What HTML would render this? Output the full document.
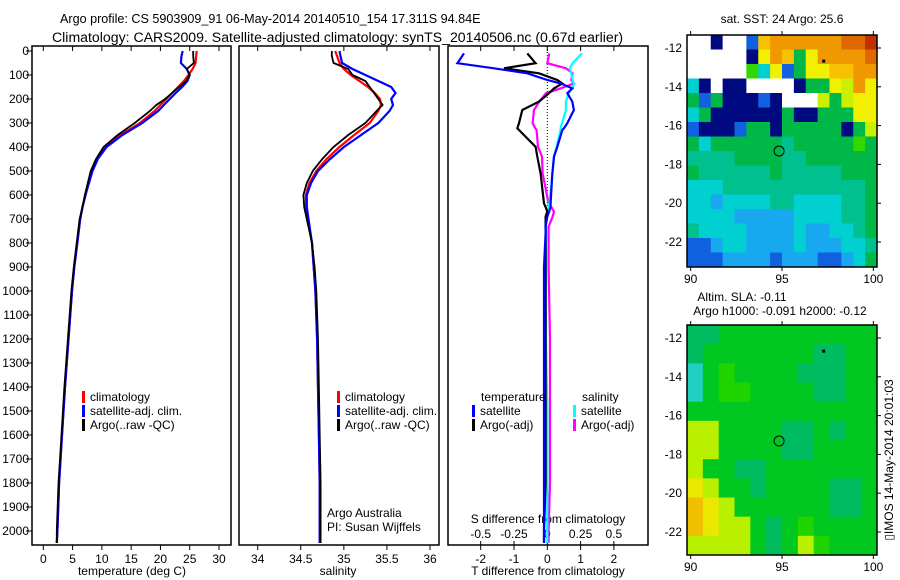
<!DOCTYPE html>
<html><head><meta charset="utf-8">
<style>
html,body{margin:0;padding:0;background:#fff;}
svg{display:block;font-family:"Liberation Sans",sans-serif;}
text{fill:#000;}
</style></head>
<body>
<svg id="chart" width="900" height="580" viewBox="0 0 900 580" xmlns="http://www.w3.org/2000/svg">
<text x="60" y="23" font-size="12.6" text-anchor="start">Argo profile: CS 5903909_91 06-May-2014 20140510_154 17.311S 94.84E</text>
<text x="52" y="42" font-size="14.1" text-anchor="start">Climatology: CARS2009. Satellite-adjusted climatology: synTS_20140506.nc (0.67d earlier)</text>
<text x="782" y="23" font-size="12" text-anchor="middle">sat. SST: 24 Argo: 25.6</text>
<text x="742" y="301" font-size="12" text-anchor="middle">Altim. SLA: -0.11</text>
<text x="780" y="315" font-size="12" text-anchor="middle">Argo h1000: -0.091 h2000: -0.12</text>
<text transform="translate(893,460) rotate(-90)" font-size="12" text-anchor="middle">▯IMOS 14-May-2014 20:01:03</text>
<g id="g"></g>
</svg>
<script>
// ---------- data ----------
const depths = [0,20,50,75,100,125,150,175,200,225,250,300,350,400,450,500,550,600,650,700,800,900,1000,1200,1400,1600,1800,2000,2050];
const tClim = [26.2,26.1,26.0,25.5,24.8,24.0,23.0,22.0,21.0,20.0,19.0,16.5,13.2,10.6,9.2,8.3,7.7,7.2,6.7,6.3,5.8,5.3,4.9,4.3,3.7,3.2,2.7,2.4,2.3];
const tSat  = [23.8,23.6,23.5,24.5,25.0,24.6,23.7,22.6,21.6,20.6,19.6,16.9,13.5,10.8,9.3,8.4,7.8,7.2,6.7,6.3,5.8,5.3,4.9,4.3,3.7,3.2,2.7,2.4,2.3];
const tArgo = [25.6,25.6,25.7,24.5,25.0,24.4,23.2,22.0,20.8,19.3,18.2,15.6,12.7,10.3,9.0,8.1,7.6,7.1,6.7,6.2,5.7,5.2,4.8,4.2,3.6,3.1,2.6,2.3,2.3];
const sClim = [34.90,34.92,34.95,35.00,35.08,35.18,35.28,35.36,35.42,35.43,35.40,35.30,35.12,34.95,34.80,34.68,34.60,34.56,34.56,34.58,34.63,34.65,34.67,34.69,34.70,34.71,34.72,34.72,34.72];
const sSat  = [34.95,34.96,34.98,35.10,35.25,35.40,35.55,35.60,35.55,35.57,35.53,35.40,35.20,35.00,34.84,34.70,34.62,34.57,34.57,34.59,34.63,34.65,34.67,34.69,34.70,34.71,34.72,34.72,34.72];
const sArgo = [34.86,34.86,34.88,35.05,35.10,35.25,35.30,35.35,35.40,35.45,35.38,35.25,35.05,34.88,34.75,34.64,34.57,34.53,34.54,34.57,34.63,34.66,34.68,34.70,34.71,34.72,34.73,34.73,34.73];
const dDepth = [10,51,72,93,121,135,156,176,211,246,301,322,329,399,440,510,635,650,670,690,732,760,900,1200,1500,1800,2000,2050];
const dTSat  = [-2.5,-2.7,-1.6,-0.6,0.0,0.4,0.75,0.6,0.75,0.8,0.6,0.5,0.45,0.3,0.2,0.15,0.1,0.1,0.05,0,-0.05,-0.05,-0.1,-0.1,-0.1,-0.1,-0.1,-0.1];
const dTArgo = [-0.6,-0.35,-1.3,-0.25,0.3,0.45,0.2,0.05,-0.25,-0.75,-0.85,-0.9,-0.85,-0.35,-0.3,-0.2,-0.1,-0.05,0,-0.05,-0.05,-0.05,-0.05,-0.05,-0.05,-0.05,-0.1,-0.1];
const dSSat  = [0.26,0.19,0.17,0.18,0.19,0.20,0.19,0.16,0.14,0.14,0.11,0.10,0.10,0.07,0.05,0.04,0.015,0.01,0.0,-0.01,-0.015,-0.01,-0.01,-0.01,0,0,0,0];
const dSArgo = [0.015,0,0.14,0.19,0.18,0.2,0.1,-0.01,-0.06,-0.1,-0.11,-0.09,-0.08,-0.07,-0.04,-0.035,0.01,0.03,0.05,0.04,0.01,0.01,0.01,0.02,0.02,0.02,0.01,0.01];
const depthTicks = [0,100,200,300,400,500,600,700,800,900,1000,1100,1200,1300,1400,1500,1600,1700,1800,1900,2000];
const tTicks = [0,5,10,15,20,25,30];
const sTicks = [34,34.5,35,35.5,36];
const sTickLabels = ["34","34.5","35","35.5","36"];
const dTTicks = [-2,-1,0,1,2];
const dSTicks = [-0.5,-0.25,0,0.25,0.5];
const dSTickLabels = ["-0.5","-0.25","0","0.25","0.5"];
const latTicks = [-12,-14,-16,-18,-20,-22];
const lonTicks = [90,95,100];
const sstRows = [
"WWNWWBoOOOOOORRD","WWWWWNyOoGyOOOOR","WWWWWHCyBGyyooOO","CNWNNWWWWNGGyYOy",
"GBGNNNBNWWWYGYyy","CGNNNNNNGNNGGGyy","BNNNBGGNGGGGGNGY","GCGGGGGGTGGGGGHG",
"TTTTGGGGTTGGGGGG","GTTTTTTGTTTTTGGG","CCCTTTTTTTTTTTTG","CCLCCCCTTCCCCTTG",
"CCCCLLLLLCCCCTTG","TCCCCLLLLCLLCCTG","BBLCCLLLLCLLLCCT","BBBLLLLBLLLBBLCG"];
const slaRows = [
"TTGGGGGGGGGG","TGGGGGGGTTGG","AGHGGGGTTTGG","AGHHGGGGTTGG","GGGGGGGGGGGG","YYGGGGTTGTGG",
"YYGGGGTTGGGG","YGGTTGGGGGGG","yYGGTGGGGTTG","OyYGGGGGGTTG","OyYYGTGHGGGG","YYYYGTGYHGGG"];
const floatLon = 94.84, floatLat = -17.311;

// ---------- helpers ----------
const NS="http://www.w3.org/2000/svg";
const G=document.getElementById('g');
function mk(tag,attrs,parent){const e=document.createElementNS(NS,tag);for(const k in attrs)e.setAttribute(k,attrs[k]);(parent||G).appendChild(e);return e;}
const Y0=51, PXM=0.24;
const yD = d => Y0 + d*PXM;
const xT = t => 43.3 + t*(219-43.3)/30;
const xS = s => 257.7 + (s-34)*(430-257.7)/2;
const xDT = v => 547.3 + v*33.3;
const xDS = v => 547.3 + v*133.2;
const TOP=46, BOT=545;

function frame(x1,x2,name){const r=mk('rect',{x:x1,y:TOP,width:x2-x1,height:BOT-TOP,fill:'none',stroke:'#000','stroke-width':1.5});

}
function txt(x,y,s,size,anchor,name){const t=mk('text',{x:x,y:y,'font-size':size,'text-anchor':anchor||'start'});t.textContent=s;

return t;}
function line(xs,ys,color,name,w){let p='';for(let i=0;i<xs.length;i++)p+=(i?' ':'')+xs[i].toFixed(1)+','+ys[i].toFixed(1);
const l=mk('polyline',{points:p,fill:'none',stroke:color,'stroke-width':w||2.2,'stroke-linejoin':'miter'});

}
function tick(x1,y1,x2,y2,name){const l=mk('line',{x1:x1,y1:y1,x2:x2,y2:y2,stroke:'#000','stroke-width':1});

}
function legend(x,y,color,label,name){const r=mk('rect',{x:x,y:y-10,width:3,height:12,fill:color});


txt(x+8,y,label,12,'start',name);}

// ---------- panel 1: temperature ----------
frame(32,231,'temperature-panel-frame');
depthTicks.forEach(d=>{tick(26,yD(d),32,yD(d),'depth-tick');txt(29,yD(d)+4,String(d),12,'end','depth-tick-label');});
tTicks.forEach(t=>{tick(xT(t),BOT,xT(t),BOT+5,'temperature-tick');tick(xT(t),TOP,xT(t),TOP+5,'temperature-top-tick');txt(xT(t),BOT+18,String(t),12,'middle','temperature-tick-label');});
txt(132,575,'temperature (deg C)',12,'middle','temperature-axis-title');
line(tClim.map(xT),depths.map(yD),'#f00','temperature-climatology-line');
line(tSat.map(xT),depths.map(yD),'#00f','temperature-satellite-line');
line(tArgo.map(xT),depths.map(yD),'#000','temperature-argo-line',1.8);
legend(82,401,'#f00','climatology','temp-legend-climatology');
legend(82,415,'#00f','satellite-adj. clim.','temp-legend-satellite');
legend(82,429,'#000','Argo(..raw -QC)','temp-legend-argo');

// ---------- panel 2: salinity ----------
frame(239,439,'salinity-panel-frame');
sTicks.forEach((s,i)=>{tick(xS(s),BOT,xS(s),BOT+5,'salinity-tick');tick(xS(s),TOP,xS(s),TOP+5,'salinity-top-tick');txt(xS(s),BOT+18,sTickLabels[i],12,'middle','salinity-tick-label');});
txt(338,575,'salinity',12,'middle','salinity-axis-title');
line(sClim.map(xS),depths.map(yD),'#f00','salinity-climatology-line');
line(sSat.map(xS),depths.map(yD),'#00f','salinity-satellite-line');
line(sArgo.map(xS),depths.map(yD),'#000','salinity-argo-line',1.8);
legend(337,401,'#f00','climatology','sal-legend-climatology');
legend(337,415,'#00f','satellite-adj. clim.','sal-legend-satellite');
legend(337,429,'#000','Argo(..raw -QC)','sal-legend-argo');
txt(327,517,'Argo Australia',12,'start','data-provider-label');
txt(327,531,'PI: Susan Wijffels',12,'start','principal-investigator-label');

// ---------- panel 3: differences ----------
frame(448,648,'difference-panel-frame');
dTTicks.forEach(v=>{tick(xDT(v),BOT,xDT(v),BOT+5,'t-diff-tick');tick(xDT(v),TOP,xDT(v),TOP+5,'t-diff-top-tick');txt(xDT(v),BOT+18,String(v),12,'middle','t-diff-tick-label');});
dSTicks.forEach((v,i)=>{tick(xDS(v),BOT,xDS(v),BOT-4,'s-diff-tick');txt(xDS(v),BOT-7,dSTickLabels[i],12,'middle','s-diff-tick-label');});
txt(548,523,'S difference from climatology',12,'middle','s-diff-axis-title');
txt(548,575,'T difference from climatology',12,'middle','t-diff-axis-title');
const zl=mk('line',{x1:xDT(0),y1:TOP,x2:xDT(0),y2:yD(700),stroke:'#000','stroke-width':1,'stroke-dasharray':'1,2'});


line(dSArgo.map(xDS),dDepth.map(yD),'#f0f','s-diff-argo-line');
line(dSSat.map(xDS),dDepth.map(yD),'#0ff','s-diff-satellite-line');
line(dTArgo.map(xDT),dDepth.map(yD),'#000','t-diff-argo-line');
line(dTSat.map(xDT),dDepth.map(yD),'#00f','t-diff-satellite-line');
txt(481,401,'temperature',12,'start','diff-legend-temperature-header');
legend(472,415,'#00f','satellite','diff-legend-t-satellite');
legend(472,429,'#000','Argo(-adj)','diff-legend-t-argo');
txt(582,401,'salinity',12,'start','diff-legend-salinity-header');
legend(573,415,'#0ff','satellite','diff-legend-s-satellite');
legend(573,429,'#f0f','Argo(-adj)','diff-legend-s-argo');

// ---------- maps ----------
const sstPal={W:'#ffffff',N:'#000a80',B:'#1060e0',L:'#18a8f0',C:'#00d0d0',T:'#00c090',G:'#00b848',H:'#30d800',Y:'#c8f000',y:'#f0f000',o:'#f8c000',O:'#f09800',R:'#e06800',D:'#c03000'};
const slaPal={A:'#20d0c0',T:'#00bc60',G:'#00c820',H:'#20d400',Y:'#b8f000',y:'#e8e800',O:'#f0c000'};
function map(x0,y0,x1,y1,rows,pal,latTop,name){
  const lx=lon=>x0+(lon-89.8)*(x1-x0)/10.4;
  const ly=lat=>latTop+(-12-lat)*19.4;
  const nr=rows.length,nc=rows[0].length,cw=(x1-x0)/nc,ch=(y1-y0)/nr;
  rows.forEach((row,r)=>{for(let c=0;c<nc;c++){
    const cell=mk('rect',{x:x0+c*cw,y:y0+r*ch,width:cw+0.5,height:ch+0.5,fill:pal[row[c]]});
    
    }});
  const f=mk('rect',{x:x0,y:y0,width:x1-x0,height:y1-y0,fill:'none',stroke:'#000','stroke-width':1.5});
  
  
  latTicks.forEach(l=>{tick(x1,ly(l),x1+4,ly(l),name+'-lat-tick');txt(x0-5,ly(l)+4,String(l),12,'end',name+'-lat-label');});
  lonTicks.forEach(l=>{tick(lx(l),y1,lx(l),y1+4,name+'-lon-tick');tick(lx(l),y0,lx(l),y0-4,name+'-lon-top-tick');txt(lx(l),y1+16,String(l),12,'middle',name+'-lon-label');});
  const c=mk('circle',{cx:lx(floatLon),cy:ly(floatLat),r:5,fill:'none',stroke:'#000','stroke-width':1});
  
  
  const d=mk('rect',{x:lx(97.2),y:ly(-12.6),width:3,height:3,fill:'#000'});
  
  
}
map(687,35,877,267,sstRows,sstPal,48,'sst-map');
map(687,325,877,555,slaRows,slaPal,338,'sla-map');
</script>
</body></html>
